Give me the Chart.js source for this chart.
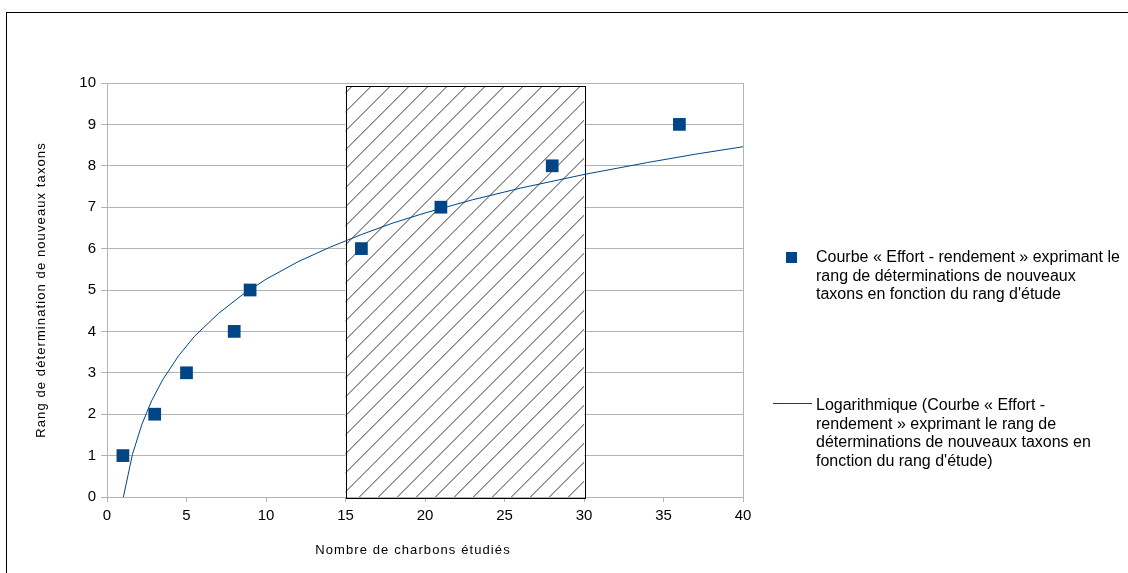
<!DOCTYPE html>
<html>
<head>
<meta charset="utf-8">
<script src="https://cdn.jsdelivr.net/npm/chart.js@4/dist/chart.umd.min.js"></script>
<style>
  html, body { margin: 0; padding: 0; background: #fff; }
  #wrap { position: relative; width: 1128px; height: 573px; overflow: hidden; }
  #frame { position: absolute; left: 6px; top: 12px; width: 1200px; height: 700px;
           border-left: 1px solid #000; border-top: 1px solid #000; }
  #box { position: absolute; left: 0; top: 0; width: 1128px; height: 573px; }
</style>
</head>
<body>
<div id="wrap">
  <div id="frame"></div>
  <div id="box"><canvas id="chart"></canvas></div>
</div>
<script>
// observed points: number of charcoals studied vs rank of new taxa
const charbons = [1, 3, 5, 8, 9, 16, 21, 28, 36];
const rangTaxons = [1, 2, 3, 4, 5, 6, 7, 8, 9];

// logarithmic trend line
const trendX = [1.03, 1.6, 2.2, 2.8, 3.5, 4.5, 5.5, 7, 8.5, 10, 12, 14, 16, 18, 20, 23, 26, 30, 34, 37, 40];
const trendY = [0, 1.03, 1.76, 2.32, 2.83, 3.41, 3.88, 4.43, 4.88, 5.26, 5.68, 6.03, 6.34, 6.62, 6.86, 7.18, 7.46, 7.79, 8.08, 8.28, 8.46];

// hatched zone
const zoneX = [15, 30];
const zoneY = [0, 9.93];

const xTitle = 'Nombre de charbons étudiés';
const yTitle = 'Rang de détermination de nouveaux taxons';
const legendPoints = ['Courbe « Effort - rendement » exprimant le', 'rang de déterminations de nouveaux', "taxons en fonction du rang d'étude"];
const legendTrend = ['Logarithmique (Courbe « Effort -', 'rendement » exprimant le rang de', 'déterminations de nouveaux taxons en', "fonction du rang d'étude)"];

const blue = '#004586';
const gridGrey = '#b3b3b3';
const fontFamily = '"Liberation Sans", Arial, sans-serif';

const hatchZone = {
  id: 'hatchZone',
  beforeDatasetsDraw(chart) {
    const { ctx, scales: { x, y } } = chart;
    const l = x.getPixelForValue(zoneX[0]), r = x.getPixelForValue(zoneX[1]);
    const t = y.getPixelForValue(zoneY[1]), b = y.getPixelForValue(zoneY[0]);
    ctx.save();
    ctx.fillStyle = '#fff';
    ctx.fillRect(l, t, r - l, b - t);
    ctx.beginPath();
    ctx.rect(l, t, r - l, b - t);
    ctx.clip();
    ctx.strokeStyle = '#222';
    ctx.lineWidth = 0.9;
    ctx.beginPath();
    const step = 19;
    for (let c = l + t - step * 20 + 7; c < r + b + step; c += step) {
      ctx.moveTo(c - t, t);
      ctx.lineTo(c - b, b);
    }
    ctx.stroke();
    ctx.restore();
    ctx.save();
    ctx.strokeStyle = '#000';
    ctx.lineWidth = 1;
    ctx.strokeRect(Math.round(l) + 0.5, Math.round(t) + 0.5, Math.round(r - l), Math.round(b - t) + 1);
    ctx.restore();
  }
};

const extras = {
  id: 'extras',
  afterDraw(chart) {
    const { ctx, chartArea } = chart;
    ctx.save();
    ctx.fillStyle = '#000';
    ctx.font = '13px ' + fontFamily;
    ctx.letterSpacing = '1.1px';
    ctx.textAlign = 'center';
    ctx.textBaseline = 'middle';
    ctx.fillText(xTitle, 413, 550);
    ctx.translate(41, (chartArea.top + chartArea.bottom) / 2);
    ctx.rotate(-Math.PI / 2);
    ctx.fillText(yTitle, 0, 0);
    ctx.restore();

    // legend
    ctx.save();
    ctx.fillStyle = blue;
    ctx.fillRect(786, 252, 11, 11);
    ctx.strokeStyle = blue;
    ctx.lineWidth = 1;
    ctx.beginPath();
    ctx.moveTo(773, 403.5);
    ctx.lineTo(812, 403.5);
    ctx.stroke();
    ctx.fillStyle = '#000';
    ctx.font = '16px ' + fontFamily;
    ctx.textAlign = 'left';
    ctx.textBaseline = 'middle';
    legendPoints.forEach((s, i) => ctx.fillText(s, 816, 258 + i * 18.5));
    legendTrend.forEach((s, i) => ctx.fillText(s, 816, 406 + i * 18.5));
    ctx.restore();
  }
};

new Chart(document.getElementById('chart'), {
  type: 'scatter',
  data: {
    datasets: [
      {
        label: legendPoints.join(' '),
        data: charbons.map((v, i) => ({ x: v, y: rangTaxons[i] })),
        pointStyle: 'rect',
        pointRadius: 9,
        backgroundColor: blue,
        borderColor: blue,
        borderWidth: 0,
        order: 1
      },
      {
        label: legendTrend.join(' '),
        data: trendX.map((v, i) => ({ x: v, y: trendY[i] })),
        showLine: true,
        pointRadius: 0,
        borderColor: blue,
        borderWidth: 1,
        tension: 0,
        order: 2
      }
    ]
  },
  options: {
    responsive: true,
    maintainAspectRatio: false,
    animation: false,
    layout: { padding: { left: 0, top: 83, right: 385, bottom: 0 } },
    plugins: { legend: { display: false }, tooltip: { enabled: false } },
    scales: {
      x: {
        type: 'linear',
        min: 0,
        max: 40,
        afterFit: (s) => { s.height = 76; },
        ticks: { stepSize: 5, color: '#000', padding: 5, font: { size: 15, family: fontFamily } },
        grid: {
          color: (c) => (c.tick && (c.tick.value === 0 || c.tick.value === 40)) ? gridGrey : 'rgba(0,0,0,0)',
          tickColor: gridGrey,
          tickLength: 5
        },
        border: { color: gridGrey }
      },
      y: {
        min: 0,
        max: 10,
        afterFit: (s) => { s.width = 107; },
        ticks: { stepSize: 1, color: '#000', padding: 5, font: { size: 15, family: fontFamily } },
        grid: { color: gridGrey, tickColor: gridGrey, tickLength: 6 },
        border: { color: gridGrey }
      }
    }
  },
  plugins: [hatchZone, extras]
});
</script>
</body>
</html>
